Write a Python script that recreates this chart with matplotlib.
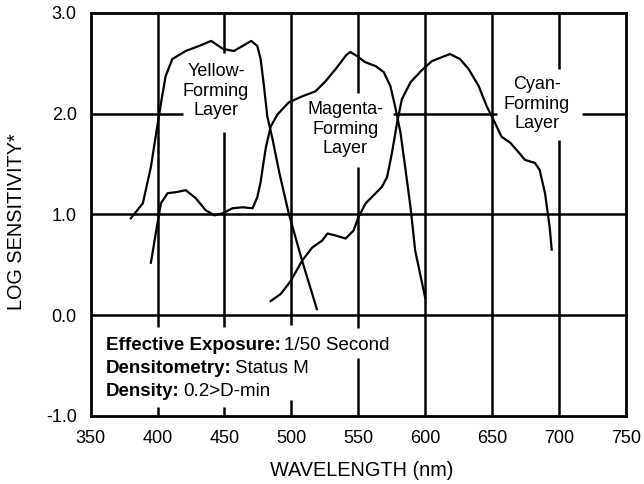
import matplotlib.pyplot as plt

plt.rcParams['font.family'] = ['Liberation Sans', 'DejaVu Sans']

# spectral sensitivity curves, wavelength (nm) vs log sensitivity
yellow_nm = [380, 389, 395, 399, 403, 406, 411, 421, 431, 440, 449, 457, 463.5,
             470, 474.5, 477, 479.5, 482, 486, 491, 498, 508, 519]
yellow_ls = [0.96, 1.11, 1.47, 1.81, 2.14, 2.37, 2.54, 2.62, 2.67, 2.72, 2.64, 2.62, 2.67,
             2.72, 2.67, 2.54, 2.27, 1.97, 1.74, 1.41, 1.01, 0.54, 0.06]

magenta_nm = [395, 399, 402.5, 407.5, 414, 421, 428.5, 436, 442.5, 448.5, 456, 463.5,
              471, 474.5, 477, 479, 481, 484.5, 489.5, 498, 508, 518, 525.5, 533, 541,
              544, 549, 555, 563, 569, 574, 577.5, 581.5, 585, 589, 592.5, 600]
magenta_ls = [0.52, 0.84, 1.11, 1.21, 1.22, 1.24, 1.16, 1.04, 0.99, 1.01, 1.06, 1.07,
              1.06, 1.17, 1.32, 1.50, 1.67, 1.87, 1.99, 2.11, 2.17, 2.22, 2.32, 2.44, 2.58,
              2.61, 2.57, 2.51, 2.47, 2.41, 2.27, 2.07, 1.81, 1.47, 1.07, 0.64, 0.17]

cyan_nm = [484.5, 492, 499.5, 508, 515.5, 523, 527, 533, 540.5, 546.5, 550, 555.5, 563,
           567.5, 571.5, 575, 579, 582.5, 589, 597.5, 605, 618.5, 626, 632.5, 640, 646,
           652, 657, 663.5, 669.5, 674.5, 682, 685.5, 689.5, 693, 694.5]
cyan_ls = [0.14, 0.21, 0.34, 0.54, 0.67, 0.74, 0.81, 0.79, 0.76, 0.84, 0.97, 1.11, 1.21,
           1.27, 1.37, 1.60, 1.91, 2.14, 2.31, 2.43, 2.52, 2.59, 2.54, 2.44, 2.27, 2.07,
           1.91, 1.77, 1.71, 1.62, 1.54, 1.51, 1.44, 1.21, 0.87, 0.65]

wavelength_ticks = [350, 400, 450, 500, 550, 600, 650, 700, 750]
sensitivity_ticks = [-1.0, 0.0, 1.0, 2.0, 3.0]

# gaps left in the grid lines around the labels
v_breaks = {400: [(-0.913, -0.118)],
            450: [(-0.913, -0.118), (1.815, 2.60)],
            500: [(-0.846, -0.101)],
            550: [(-0.429, -0.131), (1.47, 2.20)],
            700: [(1.736, 2.44)]}
h_breaks = {2.0: [(418.9, 575.8), (653.4, 716.9)]}


def pieces(lo, hi, breaks):
    segs = []
    start = lo
    for a, b in sorted(breaks):
        segs.append((start, a))
        start = b
    segs.append((start, hi))
    return segs


fig = plt.figure(figsize=(6.44, 4.84), dpi=100)
ax = fig.add_axes([0.1408, 0.1405, 0.8312, 0.8333])
ax.set_xlim(350, 750)
ax.set_ylim(-1, 3)

grid_lw = 1.8
for x in wavelength_ticks[1:-1]:
    for a, b in pieces(-1, 3, v_breaks.get(x, [])):
        ax.plot([x, x], [a, b], color='black', lw=grid_lw, solid_capstyle='butt', zorder=1)
for y in sensitivity_ticks[1:-1]:
    for a, b in pieces(350, 750, h_breaks.get(y, [])):
        ax.plot([a, b], [y, y], color='black', lw=grid_lw, solid_capstyle='butt', zorder=1)

for nm, ls in [(yellow_nm, yellow_ls), (magenta_nm, magenta_ls), (cyan_nm, cyan_ls)]:
    ax.plot(nm, ls, color='black', lw=1.6, zorder=3, solid_joinstyle='round')

ax.text(443.7, 2.22, 'Yellow-\nForming\nLayer', ha='center', va='center', fontsize=13)
ax.text(540.3, 1.845, 'Magenta-\nForming\nLayer', ha='center', va='center', fontsize=13)
ax.text(683.3, 2.093, 'Cyan-\nForming\nLayer', ha='center', va='center', fontsize=13)

conditions = [('Effective Exposure:', '1/50 Second', -0.349),
              ('Densitometry:', 'Status M', -0.578),
              ('Density:', '0.2>D-min', -0.797)]
for head, value, y in conditions:
    t = ax.text(361.5, y, head, fontsize=13.5, fontweight='bold', va='baseline')
    ax.annotate(value, xy=(1, 0), xycoords=t, xytext=(3, 0), textcoords='offset pixels',
                fontsize=13.5, va='bottom')

ax.set_xticks(wavelength_ticks)
ax.set_xticklabels([str(w) for w in wavelength_ticks])
ax.set_yticks(sensitivity_ticks)
ax.set_yticklabels([f'{v:.1f}' for v in sensitivity_ticks])
ax.tick_params(length=0, labelsize=13, pad=10)
for s in ax.spines.values():
    s.set_linewidth(2.0)

ax.set_xlabel('WAVELENGTH (nm)', fontsize=14.3)
ax.set_ylabel('LOG SENSITIVITY*', fontsize=14.3)
ax.xaxis.set_label_coords(0.507, -0.134)
ax.xaxis.label.set_va('center')
ax.yaxis.set_label_coords(-0.1377, 0.482)
ax.yaxis.label.set_va('center')

fig.savefig('out.png', dpi=100)
